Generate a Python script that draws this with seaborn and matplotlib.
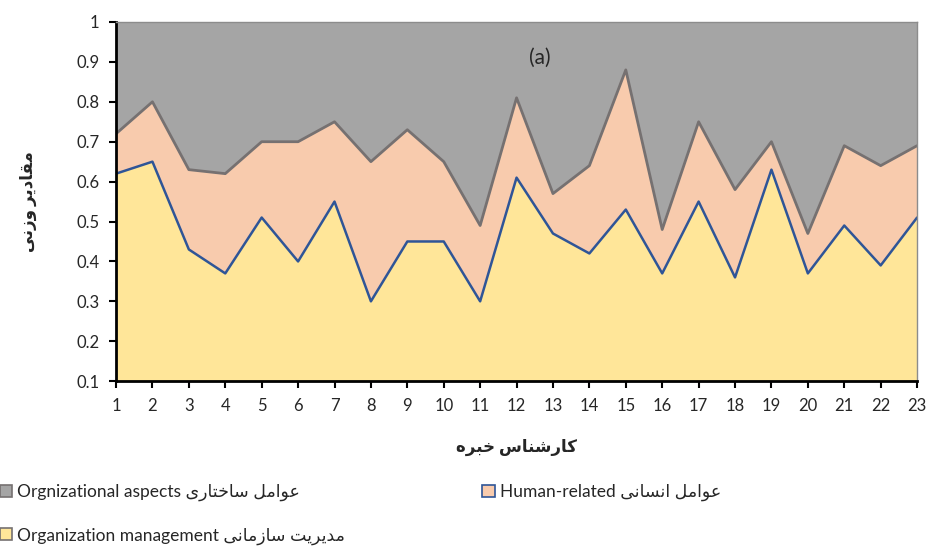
import matplotlib.pyplot as plt
from matplotlib.patches import Patch
import seaborn as sns
import pandas as pd

# expert number on the x axis
experts = list(range(1, 24))
# cumulative levels (bottom band, then bottom + middle band)
org_management = [0.62, 0.65, 0.43, 0.37, 0.51, 0.40, 0.55, 0.30, 0.45, 0.45, 0.30, 0.61,
                  0.47, 0.42, 0.53, 0.37, 0.55, 0.36, 0.63, 0.37, 0.49, 0.39, 0.51]
upper_level = [0.72, 0.80, 0.63, 0.62, 0.70, 0.70, 0.75, 0.65, 0.73, 0.65, 0.49, 0.81,
               0.57, 0.64, 0.88, 0.48, 0.75, 0.58, 0.70, 0.47, 0.69, 0.64, 0.69]
human_related = [round(u - m, 2) for u, m in zip(upper_level, org_management)]
org_aspects = [round(1 - u, 2) for u in upper_level]

y_ticks = [0.1, 0.2, 0.3, 0.4, 0.5, 0.6, 0.7, 0.8, 0.9, 1.0]
y_ticklabels = ["0.1", "0.2", "0.3", "0.4", "0.5", "0.6", "0.7", "0.8", "0.9", "1"]

YELLOW, PEACH, GREY = "#FFE699", "#F8CBAD", "#A5A5A5"
BLUE, DARK_GREY = "#2F5597", "#767171"

# matplotlib does no Arabic shaping, so pick presentation forms by hand
FORMS = {
    "ا": "\uFE8D\uFE8E", "د": "\uFEA9\uFEAA", "ر": "\uFEAD\uFEAE", "ز": "\uFEAF\uFEB0",
    "و": "\uFEED\uFEEE",
    "ب": "\uFE8F\uFE90\uFE91\uFE92", "ت": "\uFE95\uFE96\uFE97\uFE98",
    "خ": "\uFEA5\uFEA6\uFEA7\uFEA8", "س": "\uFEB1\uFEB2\uFEB3\uFEB4",
    "ش": "\uFEB5\uFEB6\uFEB7\uFEB8", "ع": "\uFEC9\uFECA\uFECB\uFECC",
    "ق": "\uFED5\uFED6\uFED7\uFED8", "ل": "\uFEDD\uFEDE\uFEDF\uFEE0",
    "م": "\uFEE1\uFEE2\uFEE3\uFEE4", "ن": "\uFEE5\uFEE6\uFEE7\uFEE8",
    "ه": "\uFEE9\uFEEA\uFEEB\uFEEC", "ی": "\uFBFC\uFBFD\uFBFE\uFBFF",
    "ک": "\uFB8E\uFB8F\uFB90\uFB91",
}


def fa(text):
    out = []
    for i, c in enumerate(text):
        if c not in FORMS:
            out.append(c)
            continue
        prev = text[i - 1] if i > 0 else ""
        nxt = text[i + 1] if i + 1 < len(text) else ""
        join_prev = prev in FORMS and len(FORMS[prev]) == 4
        join_next = len(FORMS[c]) == 4 and nxt in FORMS
        if join_prev and join_next:
            out.append(FORMS[c][3])
        elif join_prev:
            out.append(FORMS[c][1])
        elif join_next:
            out.append(FORMS[c][2])
        else:
            out.append(FORMS[c][0])
    return "".join(reversed(out))


df = pd.DataFrame({"expert": experts, "management": org_management, "upper": upper_level})

sns.set_style("ticks")
plt.rcParams["font.family"] = ["Lato", "DejaVu Sans"]

fig = plt.figure(figsize=(9.32, 5.5), dpi=100)
ax = fig.add_axes([0.1245, 0.307, 0.8595, 0.653])

ax.stackplot(experts, org_management, human_related, org_aspects,
             colors=[YELLOW, PEACH, GREY], linewidth=0)
sns.lineplot(data=df, x="expert", y="upper", color=DARK_GREY, linewidth=2, ax=ax)
sns.lineplot(data=df, x="expert", y="management", color=BLUE, linewidth=1.8, ax=ax)

ax.set_xlim(1, 23)
ax.set_ylim(0.1, 1)
ax.set_xticks(experts)
ax.set_xticklabels([str(e) for e in experts], fontsize=12)
ax.set_yticks(y_ticks)
ax.set_yticklabels(y_ticklabels, fontsize=12)
ax.tick_params(axis="both", direction="out", length=5, width=1.5, color="black", pad=7)

for side in ["left", "bottom"]:
    ax.spines[side].set_color("black")
    ax.spines[side].set_linewidth(2)
for side in ["top", "right"]:
    ax.spines[side].set_visible(True)
    ax.spines[side].set_color("#8C8C8C")
    ax.spines[side].set_linewidth(1)

ax.set_xlabel(fa("کارشناس خبره"), fontsize=12, fontweight="bold", labelpad=18)
ax.set_ylabel(fa("مقادیر وزنی"), fontsize=12, fontweight="bold", labelpad=28)
ax.text(0.529, 0.9, "(a)", transform=ax.transAxes, fontsize=15, ha="center", va="center")

handles = [
    Patch(facecolor=GREY, edgecolor=DARK_GREY, linewidth=1.2),
    Patch(facecolor=YELLOW, edgecolor=DARK_GREY, linewidth=1.2),
    Patch(facecolor=PEACH, edgecolor=BLUE, linewidth=1.2),
]
labels = [
    "Orgnizational aspects " + fa("عوامل ساختاری"),
    "Organization management " + fa("مدیریت سازمانی"),
    "Human-related " + fa("عوامل انسانی"),
]
fig.legend(handles, labels, loc="upper left", bbox_to_anchor=(0.0, 1 - 484 / 550), ncol=2,
           frameon=False, borderpad=0, borderaxespad=0, handlelength=0.7, handleheight=0.7,
           handletextpad=0.3, labelspacing=1.5, columnspacing=7.9, fontsize=12.5)

fig.savefig("out.png", dpi=100)
